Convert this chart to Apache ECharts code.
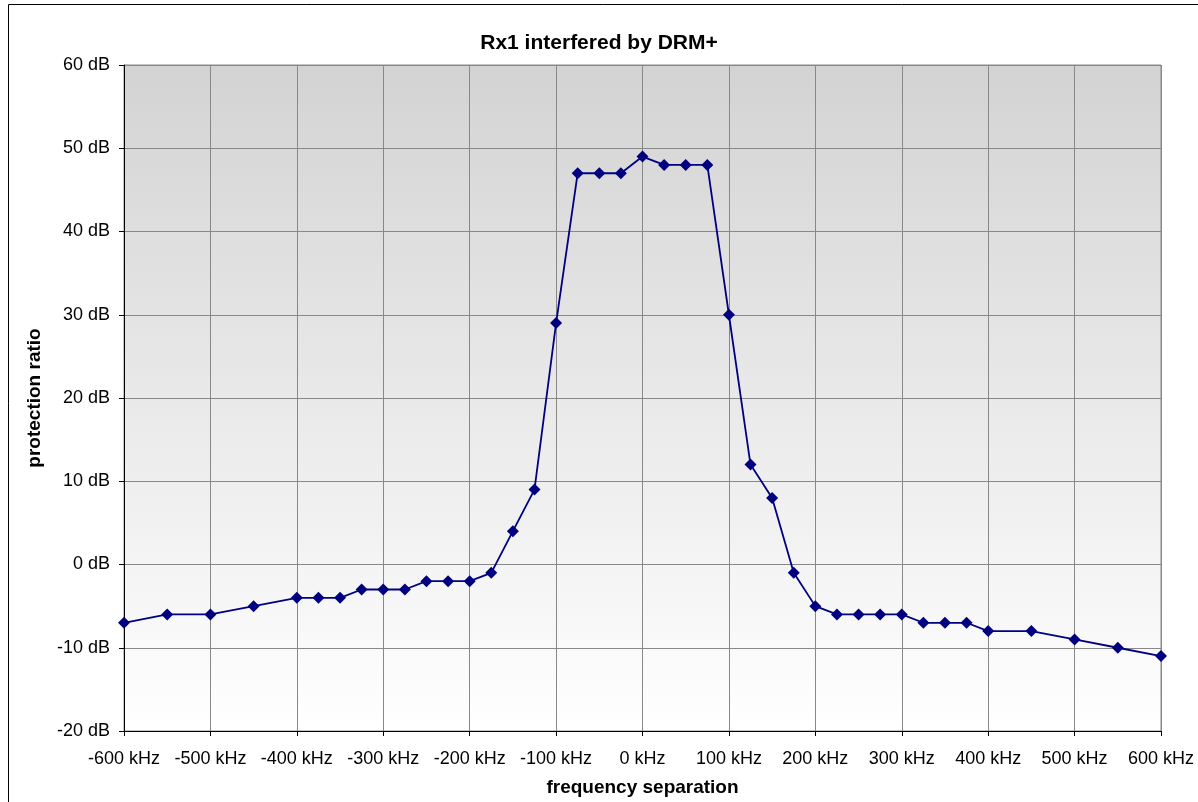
<!DOCTYPE html>
<html>
<head>
<meta charset="utf-8">
<script src="https://cdn.jsdelivr.net/npm/echarts@6/dist/echarts.min.js"></script>
<style>
html,body{margin:0;padding:0;background:#fff;}
#c{width:1198px;height:802px;}
</style>
</head>
<body>
<div id="c"></div>
<script>
const frequencies = [-600,-550,-500,-450,-400,-375,-350,-325,-300,-275,-250,-225,-200,-175,-150,-125,-100,-75,-50,-25,0,25,50,75,100,125,150,175,200,225,250,275,300,325,350,375,400,450,500,550,600];
const protectionRatio = [-7,-6,-6,-5,-4,-4,-4,-3,-3,-3,-2,-2,-2,-1,4,9,29,47,47,47,49,48,48,48,30,12,8,-1,-5,-6,-6,-6,-6,-7,-7,-7,-8,-8,-9,-10,-11];
const titleText = 'Rx1 interfered by DRM+';
const xName = 'frequency separation';
const yName = 'protection ratio';

const chart = echarts.init(document.getElementById('c'), null, {renderer:'canvas'});
const font = 'Liberation Sans, Arial, sans-serif';
chart.setOption({
  animation:false,
  backgroundColor:'#fff',
  title:{
    text:titleText, left:'center', top:28,
    textStyle:{fontFamily:font,fontSize:21,fontWeight:'bold',color:'#000'}
  },
  graphic:[{
    type:'rect', shape:{x:8.5,y:4.5,width:1300,height:900},
    style:{fill:null,stroke:'#000',lineWidth:1}, silent:true, z:-1
  }],
  grid:{
    left:124, right:37, top:65, bottom:71, show:true,
    borderColor:'#888', borderWidth:1,
    backgroundColor:new echarts.graphic.LinearGradient(0,0,0,1,[
      {offset:0,color:'#d3d3d3'},{offset:1,color:'#ffffff'}
    ])
  },
  xAxis:{
    type:'value', min:-600, max:600, interval:100,
    name:xName, nameLocation:'middle', nameGap:47,
    nameTextStyle:{fontFamily:font,fontSize:19,fontWeight:'bold',color:'#000'},
    axisLine:{show:true,onZero:false,lineStyle:{color:'#000',width:1}},
    axisTick:{show:true,inside:false,length:5,lineStyle:{color:'#000'}},
    axisLabel:{formatter:'{value} kHz',fontFamily:font,fontSize:18,color:'#000',margin:19},
    splitLine:{show:true,lineStyle:{color:'#888',width:1}}
  },
  yAxis:{
    type:'value', min:-20, max:60, interval:10,
    name:yName, nameLocation:'middle', nameGap:80,
    nameTextStyle:{fontFamily:font,fontSize:19,fontWeight:'bold',color:'#000'},
    axisLine:{show:true,onZero:false,lineStyle:{color:'#000',width:1}},
    axisTick:{show:true,inside:false,length:5,lineStyle:{color:'#000'}},
    axisLabel:{formatter:'{value} dB',fontFamily:font,fontSize:18,color:'#000',margin:14},
    splitLine:{show:true,lineStyle:{color:'#888',width:1}}
  },
  series:[{
    type:'line',
    data:frequencies.map((f,i)=>[f,protectionRatio[i]]),
    symbol:'diamond', symbolSize:12,
    lineStyle:{color:'#000080',width:1.8},
    itemStyle:{color:'#000080'},
    clip:false
  }]
});
</script>
</body>
</html>
